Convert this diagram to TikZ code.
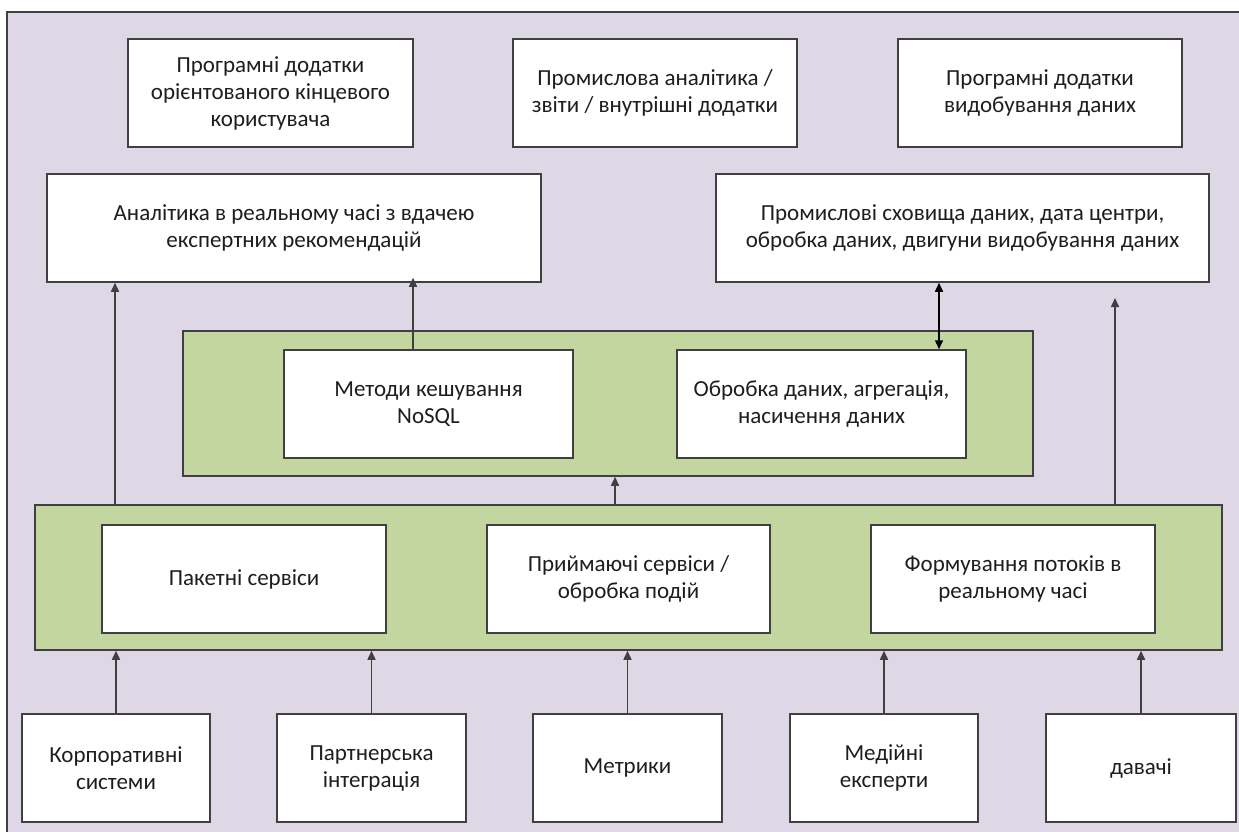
\documentclass[tikz,border=0pt]{standalone}
\usepackage{fontspec}
\setmainfont{Carlito}
\usetikzlibrary{arrows.meta}
\definecolor{lavender}{HTML}{DDD7E6}
\definecolor{leaf}{HTML}{C4D6A0}
\definecolor{edge}{HTML}{404040}
\definecolor{ink}{HTML}{1E1E1E}
\tikzset{
  box/.style={draw=edge, line width=1.5pt, fill=white, inner sep=0pt,
    align=center, text=ink, font=\fontsize{23}{27}\selectfont},
  panel/.style={draw=edge, line width=1.5pt, fill=leaf, inner sep=0pt},
  arr/.style={draw=edge, line width=1.5pt, -{Triangle[length=9pt,width=8pt]}},
  dbl/.style={draw=black, line width=1.5pt, {Triangle[length=9pt,width=8pt]}-{Triangle[length=9pt,width=8pt]}}
}
\begin{document}
\begin{tikzpicture}[x=1pt,y=-1pt]
\path[use as bounding box, clip] (0,0) rectangle (1239,832);
\fill[white] (0,0) rectangle (1239,832);
% outer frame
\draw[draw=edge, line width=1.5pt, fill=lavender] (7,12) rectangle (1260,850);

% top row
\node[box, minimum width=285pt, minimum height=108pt] (B1) at (270.5,93) {Програмні додатки\\орієнтованого кінцевого\\користувача};
\node[box, minimum width=284pt, minimum height=108pt] (B2) at (655,93) {Промислова аналітика /\\звіти / внутрішні додатки};
\node[box, minimum width=284pt, minimum height=108pt] (B3) at (1040,93) {Програмні додатки\\видобування даних};

% analytics row
\node[box, minimum width=494pt, minimum height=108pt] (A1) at (294,228) {Аналітика в реальному часі з вдачею\\експертних рекомендацій};
\node[box, minimum width=493pt, minimum height=108pt] (A2) at (962.5,228) {Промислові сховища даних, дата центри,\\обробка даних, двигуни видобування даних};

% middle panel
\node[panel, minimum width=850pt, minimum height=145pt] (mid) at (608,403.5) {};
\node[box, minimum width=289pt, minimum height=108pt] (M1) at (428.5,404) {Методи кешування\\NoSQL};
\node[box, minimum width=289pt, minimum height=108pt] (M2) at (821.5,404) {Обробка даних, агрегація,\\насичення даних};

% lower panel
\node[panel, minimum width=1187pt, minimum height=145pt] (low) at (628.5,577.5) {};
\node[box, minimum width=284pt, minimum height=108pt] (L1) at (244,579) {Пакетні сервіси};
\node[box, minimum width=283pt, minimum height=108pt] (L2) at (628.5,579) {Приймаючі сервіси /\\обробка подій};
\node[box, minimum width=284pt, minimum height=108pt] (L3) at (1013,579) {Формування потоків в\\реальному часі};

% sources
\node[box, minimum width=188pt, minimum height=108pt] (C1) at (116,768) {Корпоративні\\системи};
\node[box, minimum width=189pt, minimum height=108pt] (C2) at (371.5,768) {Партнерська\\інтеграція};
\node[box, minimum width=189pt, minimum height=108pt] (C3) at (627.5,768) {Метрики};
\node[box, minimum width=188pt, minimum height=108pt] (C4) at (884,768) {Медійні\\експерти};
\node[box, minimum width=190pt, minimum height=108pt] (C5) at (1141,768) {давачі};

% sources feed the lower panel
\foreach \s in {C1,C2,C3,C4,C5}
  \draw[arr] (\s.north) -- (\s.north |- low.south);

% lower panel outputs
\coordinate (upL) at (115,282);
\coordinate (upR) at (1115,298);
\draw[arr] (low.north -| upL) -- (A1.south -| upL);
\draw[arr] (low.north -| upR) -- (upR);
\draw[arr] (low.north -| 615,0) -- (mid.south -| 615,0);

% middle panel outputs
\draw[arr] (M1.north -| 413,0) -- ([yshift=5pt]A1.south -| 413,0);
\draw[dbl] (A2.south -| 939,0) -- (M2.north -| 939,0);
\end{tikzpicture}
\end{document}
